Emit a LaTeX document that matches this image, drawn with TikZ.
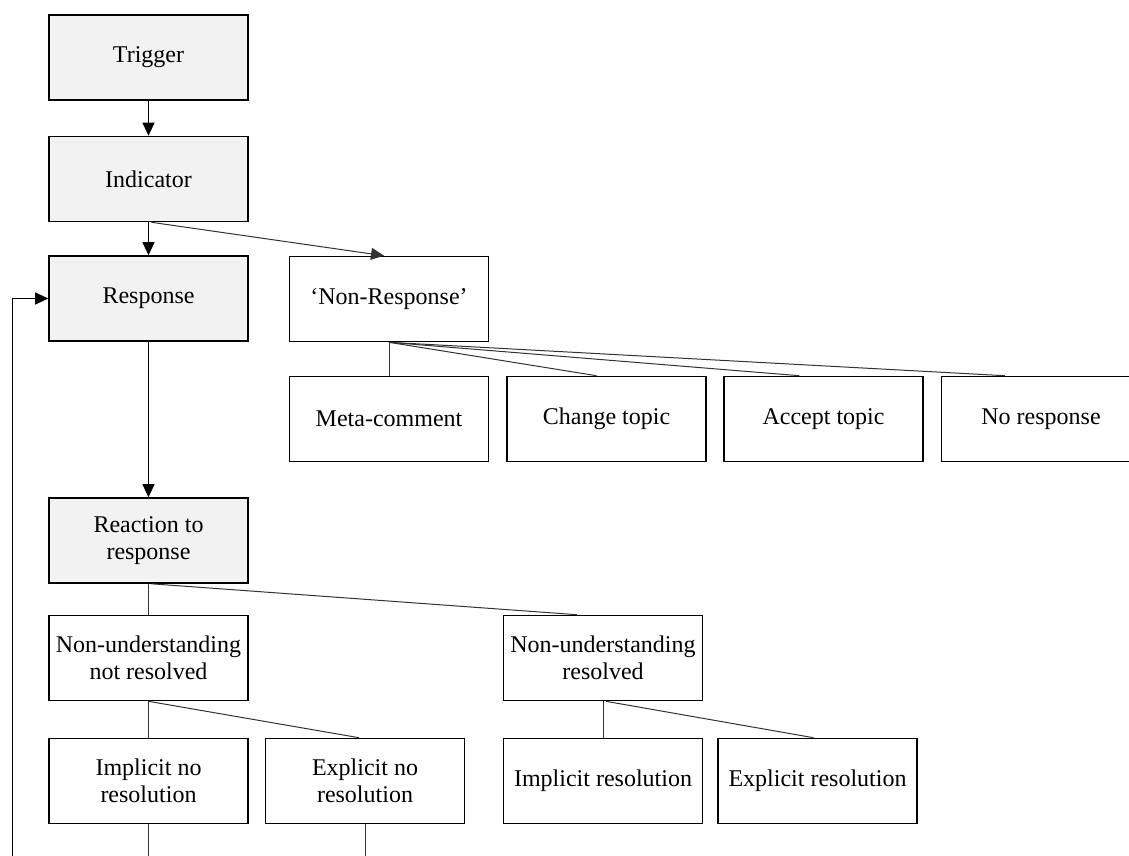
\documentclass[tikz,border=0pt]{standalone}
\usepackage{fontspec}
\setmainfont{Liberation Serif}
\usetikzlibrary{arrows.meta,calc}
\begin{document}
\begin{tikzpicture}[x=1pt,y=-1pt,
  box/.style={draw=black, line width=1.6pt, minimum width=199pt, minimum height=85pt,
    inner sep=0pt, align=center, font=\fontsize{24}{27}\selectfont},
  shaded/.style={box, fill=black!5},
  link/.style={draw=black!80, line width=1pt},
  arr/.style={draw=black, line width=1pt, -{Triangle[length=13pt,width=12pt]}}]
\clip (0,0) rectangle (1129,855);
\fill[white] (0,0) rectangle (1129,855);

% main column
\node[shaded] (trig)  at (148.5,57.5)  {Trigger};
\node[shaded] (ind)   at (148.5,179)   {Indicator};
\node[shaded] (resp)  at (148.5,298.5) {Response};
\node[shaded] (react) at (148.5,540.5) {Reaction to\\response};

% non-response branch
\node[box] (nonresp) at (389,299)    {`Non-Response'};
\node[box] (meta)    at (389,419)    {Meta-comment};
\node[box] (chg)     at (606.5,419)  {Change topic};
\node[box] (acc)     at (823.5,419)  {Accept topic};
\node[box] (nores)   at (1041,419)   {No response};

% reaction branch
\node[box] (nunr) at (148.5,658) {Non-understanding\\not resolved};
\node[box] (nur)  at (603,658)   {Non-understanding\\resolved};
\node[box] (inr)  at (148.5,781) {Implicit no\\resolution};
\node[box] (enr)  at (365,781)   {Explicit no\\resolution};
\node[box] (ir)   at (603,781)   {Implicit resolution};
\node[box] (er)   at (817.5,781) {Explicit resolution};

% free ends below the picture
\coordinate (inrEnd) at (148.5,870);
\coordinate (enrEnd) at (365,870);
\coordinate (loop)   at (12,870);

% arrows
\draw[arr] (trig.south) -- (ind.north);
\draw[arr] (ind.south) -- (resp.north);
\draw[arr, draw=black!80] ($(ind.south)+(3,0)$) -- ($(nonresp.north)+(-5,0)$);
\draw[arr] (resp.south) -- (react.north);
\draw[arr] (loop) |- (resp.west);

% plain links
\draw[link] (nonresp.south) -- (meta.north);
\draw[link] (nonresp.south) -- ($(chg.north west)!0.45!(chg.north east)$);
\draw[link] (nonresp.south) -- ($(acc.north west)!0.38!(acc.north east)$);
\draw[link] (nonresp.south) -- ($(nores.north west)!0.32!(nores.north east)$);

\draw[link] (react.south) -- (nunr.north);
\draw[link] ($(react.south)+(3,0)$) -- ($(nur.north west)!0.37!(nur.north east)$);

\draw[link] (nunr.south) -- (inr.north);
\draw[link] (nunr.south) -- ($(enr.north west)!0.47!(enr.north east)$);

\draw[link] (nur.south) -- (ir.north);
\draw[link] ($(nur.south)+(3,0)$) -- ($(er.north west)!0.48!(er.north east)$);

\draw[link] (inr.south) -- (inrEnd);
\draw[link] (enr.south) -- (enrEnd);
\end{tikzpicture}
\end{document}
